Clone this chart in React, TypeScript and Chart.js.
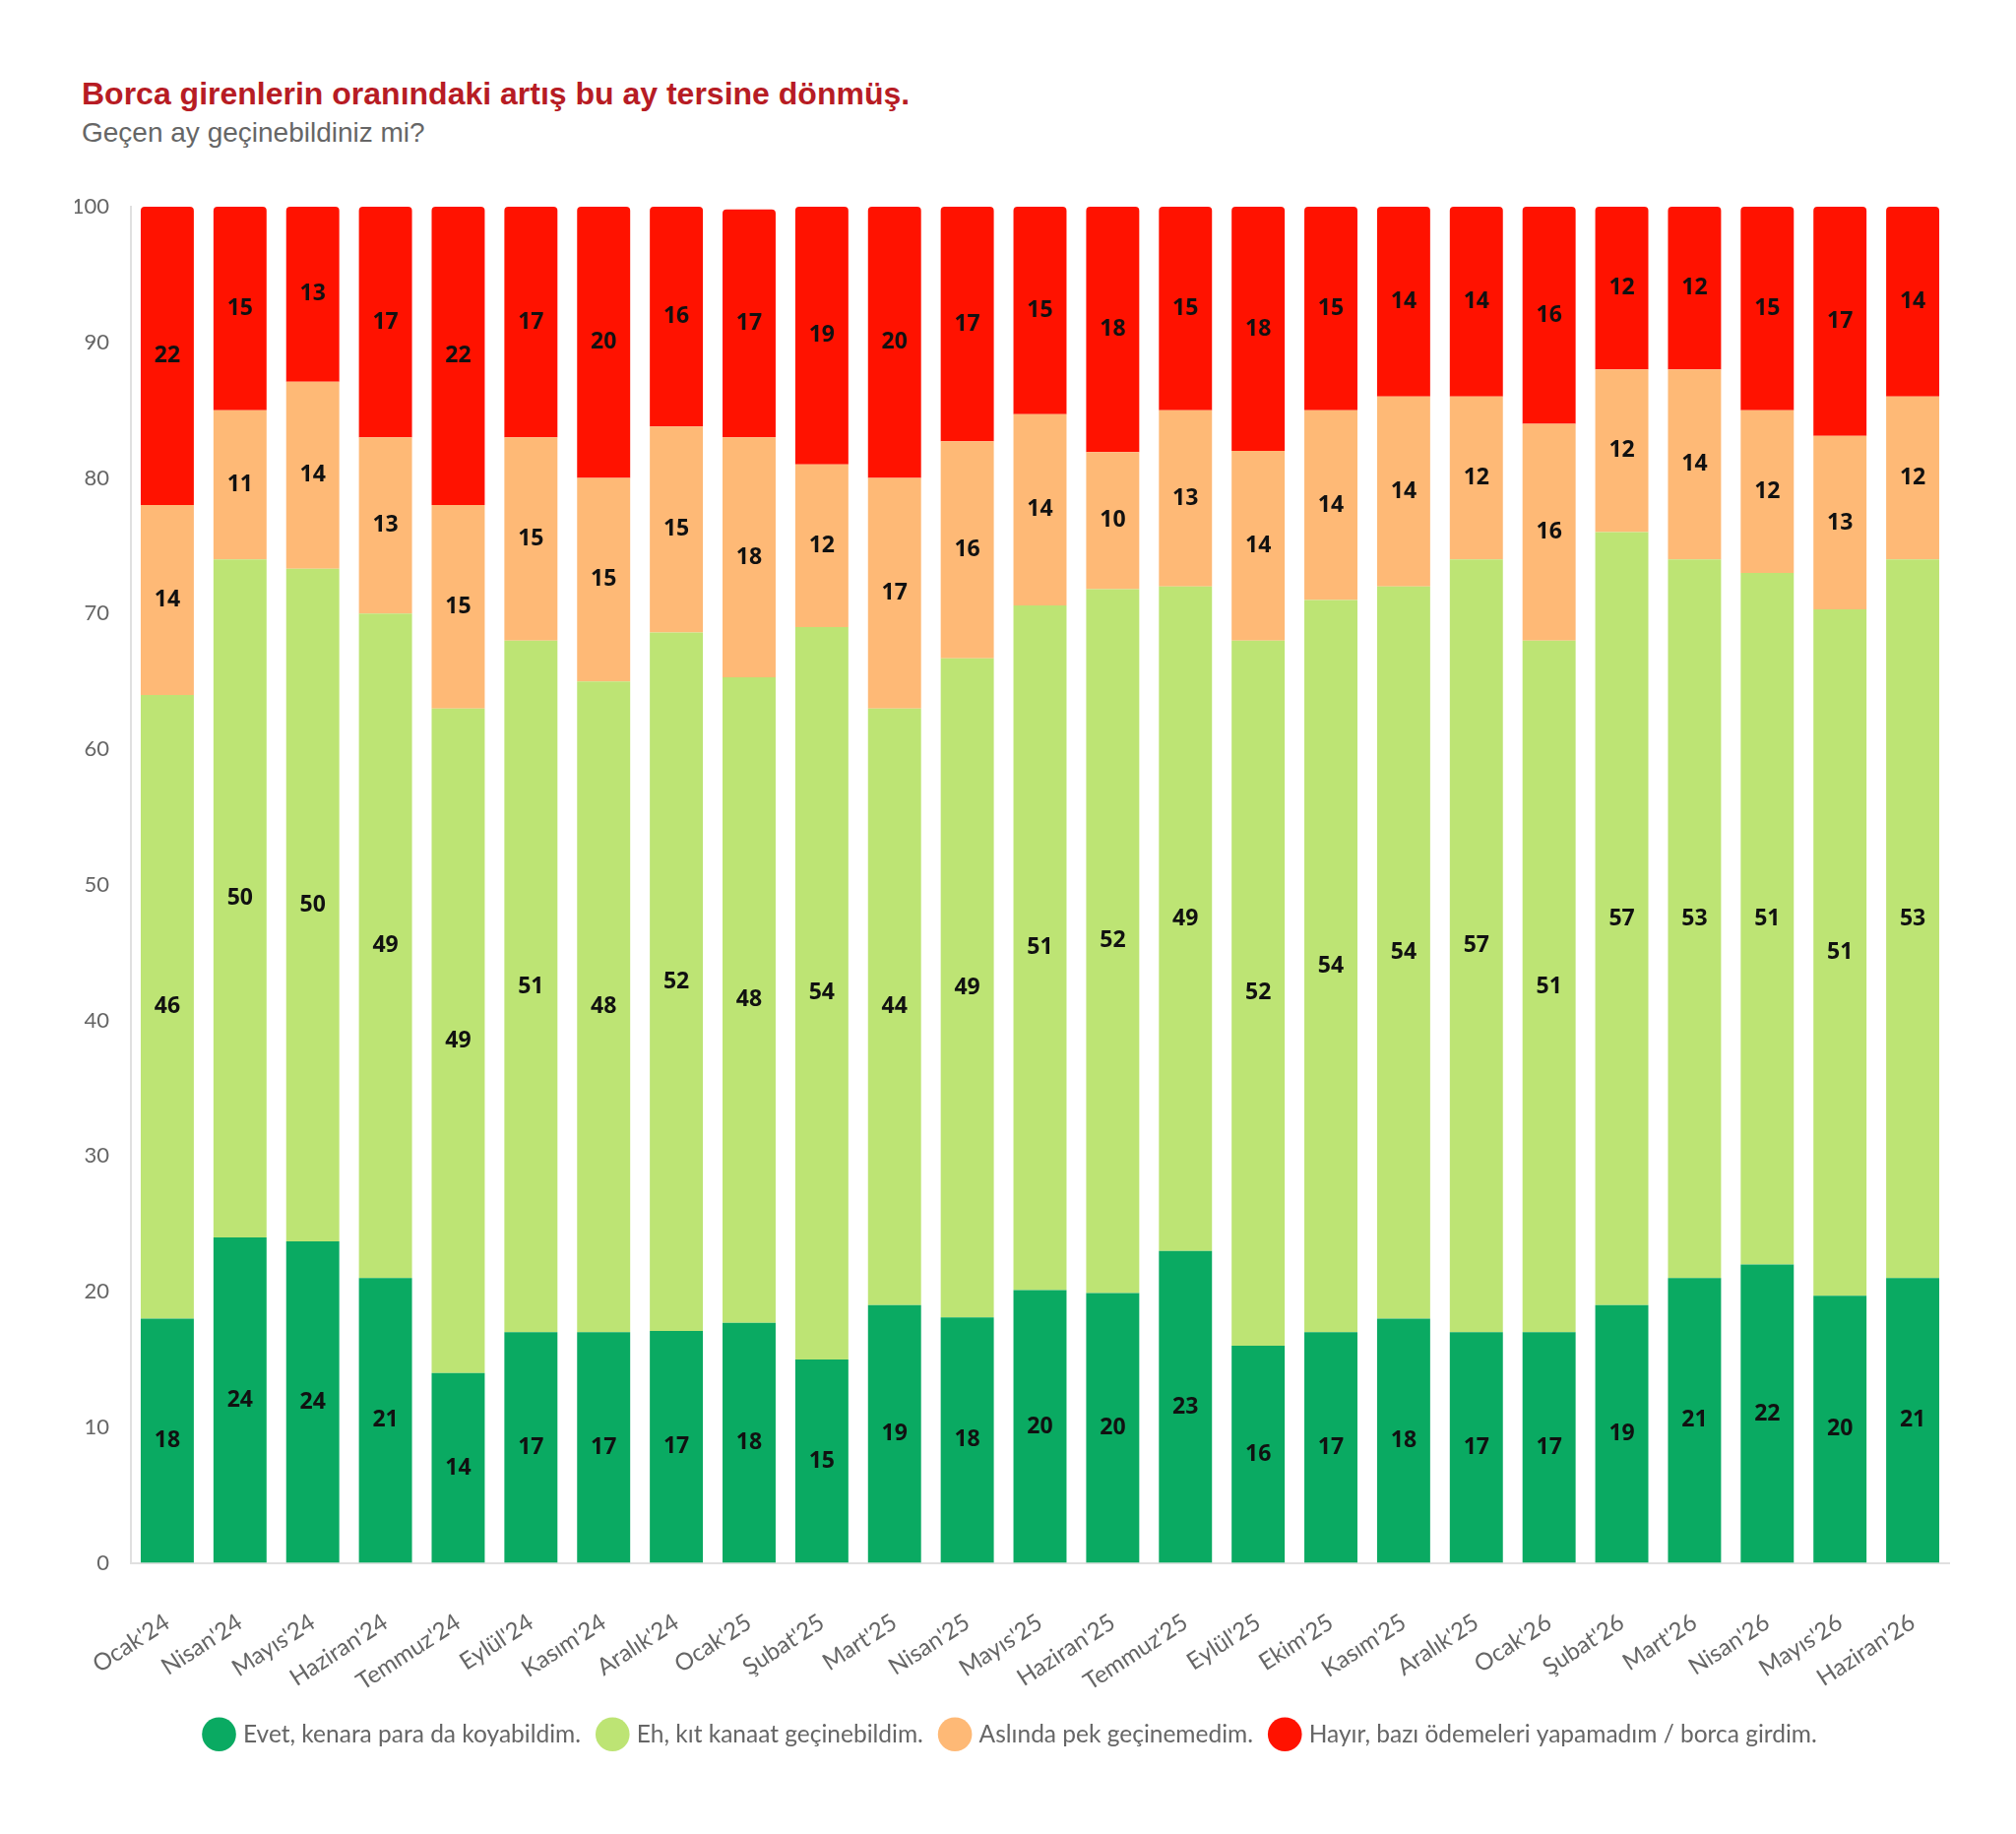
import { useEffect, useRef } from 'react';
import { Chart, registerables } from 'chart.js';

Chart.register(...registerables);

const months = [
  "Ocak'24", "Nisan'24", "Mayıs'24", "Haziran'24", "Temmuz'24", "Eylül'24", "Kasım'24", "Aralık'24",
  "Ocak'25", "Şubat'25", "Mart'25", "Nisan'25", "Mayıs'25", "Haziran'25", "Temmuz'25", "Eylül'25",
  "Ekim'25", "Kasım'25", "Aralık'25", "Ocak'26", "Şubat'26", "Mart'26", "Nisan'26", "Mayıs'26", "Haziran'26",
];

const evet = [18, 24, 23.7, 21, 14, 17, 17, 17.1, 17.7, 15, 19, 18.1, 20.1, 19.9, 23, 16, 17, 18, 17, 17, 19, 21, 22, 19.7, 21];
const eh = [46, 50, 49.6, 49, 49, 51, 48, 51.5, 47.6, 54, 44, 48.6, 50.5, 51.9, 49, 52, 54, 54, 57, 51, 57, 53, 51, 50.6, 53];
const aslinda = [14, 11, 13.8, 13, 15, 15, 15, 15.2, 17.7, 12, 17, 16, 14.1, 10.1, 13, 14, 14, 14, 12, 16, 12, 14, 12, 12.8, 12];
const hayir = [22, 15, 12.9, 17, 22, 17, 20, 16.2, 16.8, 19, 20, 17.3, 15.3, 18.1, 15, 18, 15, 14, 14, 16, 12, 12, 15, 16.9, 14];

const seriesNames = [
  'Evet, kenara para da koyabildim.',
  'Eh, kıt kanaat geçinebildim.',
  'Aslında pek geçinemedim.',
  'Hayır, bazı ödemeleri yapamadım / borca girdim.',
];

const yTicks = [0, 10, 20, 30, 40, 50, 60, 70, 80, 90, 100];

const FONT = 'Lato, "Noto Sans", sans-serif';

// values written in the middle of each segment
const barLabels = {
  id: 'barLabels',
  afterDatasetsDraw(chart: Chart) {
    const { ctx } = chart;
    ctx.save();
    ctx.font = 'bold 23px "Open Sans", "Noto Sans", sans-serif';
    ctx.fillStyle = '#111';
    ctx.textAlign = 'center';
    ctx.textBaseline = 'middle';
    chart.data.datasets.forEach((ds, i) => {
      const meta = chart.getDatasetMeta(i);
      meta.data.forEach((bar: any, j: number) => {
        const { x, y, base } = bar.getProps(['x', 'y', 'base'], true);
        const v = ds.data[j] as number;
        ctx.fillText(String(Math.round(v)), x, (y + base) / 2);
      });
    });
    ctx.restore();
  },
};

const App = () => {
  const chartRef = useRef<HTMLCanvasElement>(null);
  const chartInstance = useRef<Chart | null>(null);

  useEffect(() => {
    if (!chartRef.current) return;
    if (chartInstance.current) chartInstance.current.destroy();

    const ctx = chartRef.current.getContext('2d');
    if (!ctx) return;

    const common = { barPercentage: 0.73, categoryPercentage: 1, borderWidth: 0 };

    chartInstance.current = new Chart(ctx, {
      type: 'bar',
      data: {
        labels: months,
        datasets: [
          { label: seriesNames[0], data: evet, backgroundColor: '#0AAA62', ...common },
          { label: seriesNames[1], data: eh, backgroundColor: '#BDE474', ...common },
          { label: seriesNames[2], data: aslinda, backgroundColor: '#FEB976', ...common },
          {
            label: seriesNames[3],
            data: hayir,
            backgroundColor: '#FF1200',
            borderRadius: { topLeft: 4, topRight: 4, bottomLeft: 0, bottomRight: 0 },
            borderSkipped: false,
            ...common,
          },
        ],
      },
      options: {
        animation: false,
        responsive: true,
        maintainAspectRatio: false,
        layout: { padding: { top: 202, left: 68, right: 60, bottom: 71 } },
        plugins: {
          legend: {
            position: 'bottom',
            labels: {
              usePointStyle: true,
              pointStyle: 'circle',
              font: { family: FONT, size: 24.5 },
              color: '#666',
              padding: 20,
            },
          },
          tooltip: { enabled: false },
        },
        scales: {
          x: {
            stacked: true,
            grid: { display: false, drawTicks: false },
            border: { display: true, color: '#e0e0e0', width: 2 },
            ticks: {
              color: '#666',
              font: { family: FONT, size: 24 },
              autoSkip: false,
              minRotation: 33,
              maxRotation: 33,
              padding: 46,
            },
            afterFit: (s: any) => {
              s.height = 142;
            },
          },
          y: {
            stacked: true,
            min: 0,
            max: 100,
            afterBuildTicks: (s: any) => {
              s.ticks = yTicks.map((v) => ({ value: v }));
            },
            grid: { display: false, drawTicks: false },
            border: { display: true, color: '#e0e0e0', width: 2 },
            ticks: {
              color: '#666',
              font: { family: FONT, size: 22 },
              padding: 22,
            },
            afterFit: (s: any) => {
              s.width = 57;
            },
          },
        },
      },
      plugins: [barLabels],
    });

    return () => {
      if (chartInstance.current) {
        chartInstance.current.destroy();
        chartInstance.current = null;
      }
    };
  }, []);

  return (
    <div style={{ position: 'relative', width: 2032, height: 1847, background: '#fff' }}>
      <div
        style={{
          position: 'absolute',
          left: 75,
          top: 71,
          font: 'bold 32px "Liberation Sans", Arial, sans-serif',
          lineHeight: '32px',
          color: '#B71C24',
          whiteSpace: 'nowrap',
        }}
      >
        Borca girenlerin oranındaki artış bu ay tersine dönmüş.
      </div>
      <div
        style={{
          position: 'absolute',
          left: 75,
          top: 113,
          font: '28px "Liberation Sans", Arial, sans-serif',
          lineHeight: '28px',
          color: '#666',
          whiteSpace: 'nowrap',
        }}
      >
        Geçen ay geçinebildiniz mi?
      </div>
      <div style={{ position: 'absolute', left: 0, top: 0, width: 2032, height: 1847 }}>
        <canvas ref={chartRef}></canvas>
      </div>
    </div>
  );
};

export default App;
